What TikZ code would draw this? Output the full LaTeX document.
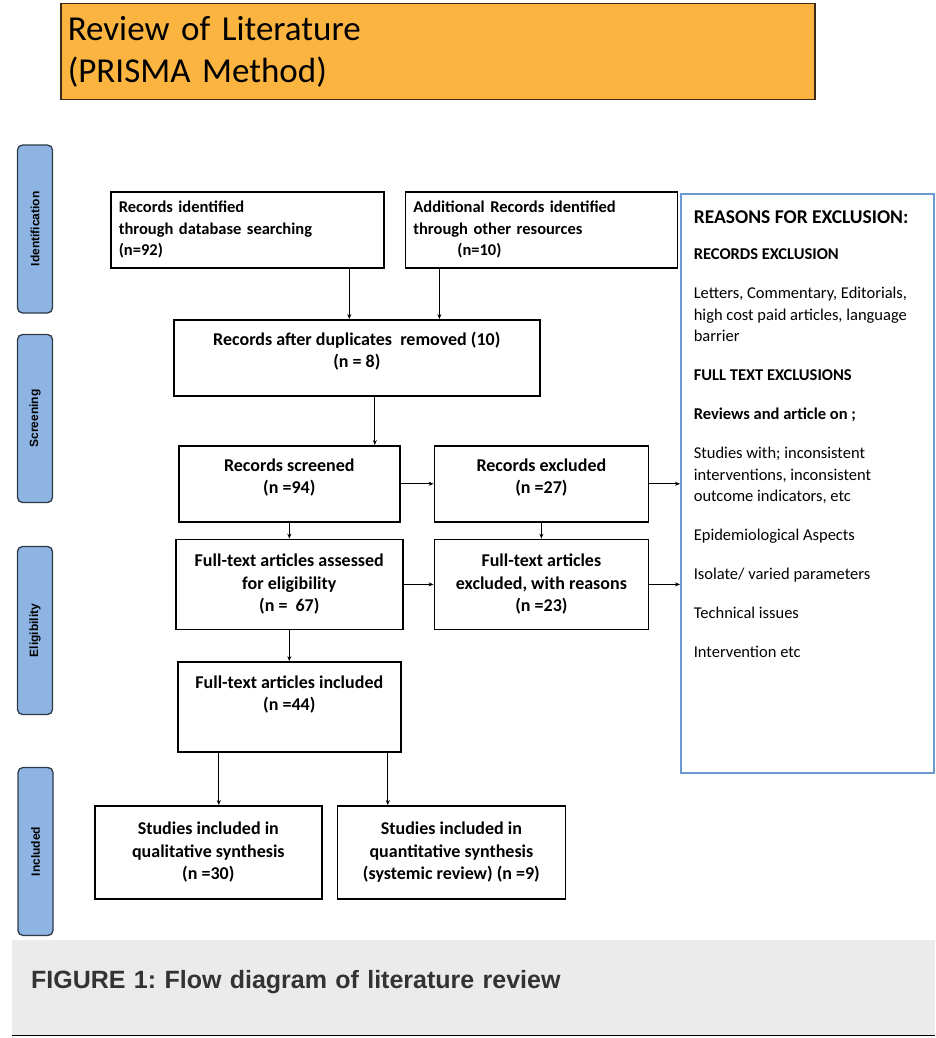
\documentclass[tikz,border=0pt]{standalone}
\usepackage{fontspec}
\setmainfont{Carlito}
\newfontfamily\arialfont{Liberation Sans}
\usepackage{xcolor}
\usetikzlibrary{arrows.meta, positioning}
\definecolor{prismaorange}{HTML}{FBB440}
\definecolor{prismabrown}{HTML}{3B2A1A}
\definecolor{prismablue}{HTML}{8DB4E2}
\definecolor{prismaslate}{HTML}{2E3A48}
\definecolor{prismaframe}{HTML}{6B9AD0}
\definecolor{prismagray}{HTML}{EBEBEB}
\frenchspacing

\begin{document}
\begin{tikzpicture}[x=1pt, y=1pt,
    node distance=16pt and 20pt,
    flowbox/.style={draw, line width=1.6pt, align=center, inner sep=0pt, font=\fontsize{18}{22.5}\selectfont\bfseries},
    leftbox/.style={flowbox, align=left, inner xsep=8pt, minimum height=76pt, font=\fontsize{16.5}{21.5}\selectfont\bfseries},
    lift/.style={text depth=#1},
    stage/.style={draw=prismaslate, fill=prismablue, line width=1.3pt, rounded corners=5pt, rotate=90, minimum width=168pt, minimum height=35pt, inner sep=0pt, font=\arialfont\fontsize{12}{14}\selectfont\bfseries},
    arr/.style={-{Stealth[length=5pt,width=4pt]}, line width=0.8pt},
  ]
    \useasboundingbox (0,0) rectangle (935,-1038);

    \node[draw=prismabrown, fill=prismaorange, line width=1.5pt, anchor=north west, minimum width=754pt, minimum height=96pt, text width=740pt, inner xsep=7pt, align=left, font=\fontsize{35}{42}\selectfont] (title) at (60,-3) {Review of Literature\\(PRISMA Method)};

    % stages
    \node[stage] (ident) at (35,-229) {Identification};
    \node[stage] (screen) at (35,-418.5) {Screening};
    \node[stage] (elig) at (35,-630.5) {Eligibility};
    \node[stage] (incl) at (35.5,-851.5) {Included};

    % flow
    \node[leftbox, text width=257pt, anchor=north west] (dbrec) at (110,-191) {Records identified\\through database searching\\(n=92)};
    \node[leftbox, text width=256pt, right=20pt of dbrec] (otherrec) {Additional Records identified\\through other resources\\\hspace*{44pt}(n=10)};
    \node[flowbox, minimum width=366pt, minimum height=76pt, lift=16pt, anchor=north west] (dedup) at (173,-319) {Records after duplicates\ \ removed (10)\\(n = 8)};
    \node[flowbox, minimum width=221pt, minimum height=76pt, lift=15pt, anchor=north west] (screened) at (178,-445) {Records screened\\(n =94)};
    \node[flowbox, minimum width=214pt, minimum height=76pt, lift=15pt, right=33pt of screened] (recexcl) {Records excluded\\(n =27)};
    \node[flowbox, minimum width=227pt, minimum height=90pt, below=16pt of screened] (assessed) {Full-text articles assessed\\for eligibility\\(n =\ \ 67)};
    \node[flowbox, minimum width=214pt, minimum height=90pt, below=16pt of recexcl] (ftexcl) {Full-text articles\\excluded, with reasons\\(n =23)};
    \node[flowbox, minimum width=223pt, minimum height=90pt, lift=28pt, below=31pt of assessed] (ftincl) {Full-text articles included\\(n =44)};
    \node[flowbox, minimum width=227pt, minimum height=93pt, anchor=north west] (qual) at (94,-805) {Studies included in\\qualitative synthesis\\(n =30)};
    \node[flowbox, minimum width=228pt, minimum height=93pt, right=14pt of qual] (quant) {Studies included in\\quantitative synthesis\\(systemic review) (n =9)};

    \node[draw=prismaframe, line width=1.6pt, inner xsep=13pt, inner ysep=17pt, anchor=north west] (reasons) at (680,-193) {\parbox[c][545pt][t]{227pt}{\fontsize{16.5}{21.5}\selectfont\setlength{\parskip}{17.5pt}\raggedright
      {\fontsize{19.5}{21.5}\selectfont\bfseries REASONS FOR EXCLUSION:}\par\vspace{-3pt}
      \textbf{RECORDS EXCLUSION}\par
      Letters, Commentary, Editorials,\\high cost paid articles, language\\barrier\par
      \textbf{FULL TEXT EXCLUSIONS}\par
      \textbf{Reviews and article on ;}\par
      Studies with; inconsistent\\interventions, inconsistent\\outcome indicators, etc\par
      Epidemiological Aspects\par
      Isolate/ varied parameters\par
      Technical issues\par
      Intervention etc\par}};

    \draw[arr] ([xshift=102pt]dbrec.south) -- ([xshift=102pt]dbrec.south |- dedup.north);
    \draw[arr] ([xshift=-102pt]otherrec.south) -- ([xshift=-102pt]otherrec.south |- dedup.north);
    \draw[arr] ([xshift=18pt]dedup.south) -- ([xshift=18pt]dedup.south |- screened.north);
    \draw[arr] (screened) -- (recexcl);
    \draw[arr] (recexcl.east) -- (recexcl.east -| reasons.west);
    \draw[arr] (screened) -- (assessed);
    \draw[arr] (recexcl) -- (ftexcl);
    \draw[arr] (assessed) -- (ftexcl);
    \draw[arr] (ftexcl.east) -- (ftexcl.east -| reasons.west);
    \draw[arr] (assessed) -- (ftincl);
    \draw[arr] ([xshift=-70.5pt]ftincl.south) -- ([xshift=-70.5pt]ftincl.south |- qual.north);
    \draw[arr] ([xshift=98.5pt]ftincl.south) -- ([xshift=98.5pt]ftincl.south |- quant.north);

    % caption strip
    \node[fill=prismagray, anchor=north west, minimum width=923pt, minimum height=95pt, text width=885pt, inner xsep=19pt, align=left, lift=16pt, text=black!80, font=\arialfont\fontsize{25}{30}\selectfont\bfseries] (caption) at (12,-940) {FIGURE 1: Flow diagram of literature review};
    \draw[line width=1.5pt] (caption.south west) -- (caption.south east);
  \end{tikzpicture}
\end{document}
